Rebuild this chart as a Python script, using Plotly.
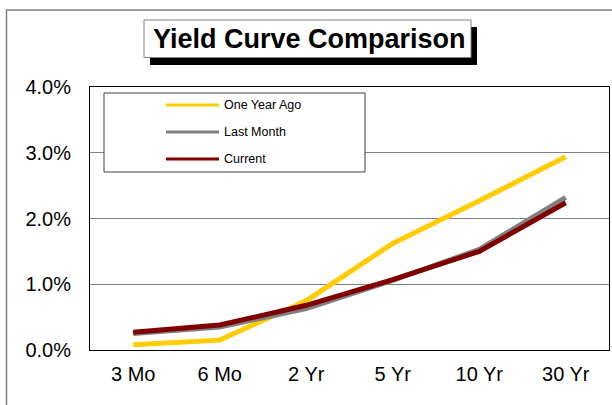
import plotly.graph_objects as go

# ---- data ----
maturities = ["3 Mo", "6 Mo", "2 Yr", "5 Yr", "10 Yr", "30 Yr"]
one_year_ago = [0.08, 0.15, 0.75, 1.62, 2.27, 2.94]
last_month = [0.25, 0.35, 0.63, 1.06, 1.53, 2.32]
current = [0.27, 0.38, 0.68, 1.07, 1.50, 2.24]
series_names = ["One Year Ago", "Last Month", "Current"]
y_ticks = [0, 1, 2, 3, 4]
y_tick_labels = ["0.0%", "1.0%", "2.0%", "3.0%", "4.0%"]

colors = ["#FFCC00", "#808080", "#800000"]
FONT = "Liberation Sans, Arial, sans-serif"

W, H = 612, 405
L, R, T, B = 90, 3, 87, 55
PW, PH = W - L - R, H - T - B


def px(x):
    return (x - L) / PW


def py(y):
    return (H - B - y) / PH


fig = go.Figure()
for name, vals, col in zip(series_names, [one_year_ago, last_month, current], colors):
    fig.add_trace(go.Scatter(x=maturities, y=vals, mode="lines", name=name,
                             line=dict(color=col, width=5), showlegend=False))

shapes = []
annotations = []

# outer chart border
shapes.append(dict(type="rect", xref="paper", yref="paper", x0=px(6.5), x1=px(620),
                   y0=py(420), y1=py(10), line=dict(color="#808080", width=1.5),
                   fillcolor="rgba(0,0,0,0)", layer="below"))

# title box with shadow
shapes.append(dict(type="rect", xref="paper", yref="paper", x0=px(150), x1=px(477),
                   y0=py(65), y1=py(27), line=dict(width=0), fillcolor="black", layer="above"))
shapes.append(dict(type="rect", xref="paper", yref="paper", x0=px(144), x1=px(471),
                   y0=py(57.5), y1=py(20), line=dict(color="#808080", width=1),
                   fillcolor="white", layer="above"))
annotations.append(dict(text="<b>Yield Curve Comparison</b>", xref="paper", yref="paper",
                        x=px(309), y=py(39), xanchor="center", yanchor="middle",
                        showarrow=False, font=dict(family=FONT, size=27, color="black")))

# custom legend box
shapes.append(dict(type="rect", xref="paper", yref="paper", x0=px(104), x1=px(365),
                   y0=py(172), y1=py(93), line=dict(color="#404040", width=1),
                   fillcolor="white", layer="above"))
legend_y = [105, 132, 159]
for name, col, ly in zip(series_names, colors, legend_y):
    shapes.append(dict(type="line", xref="paper", yref="paper", x0=px(166), x1=px(219),
                       y0=py(ly), y1=py(ly), line=dict(color=col, width=3), layer="above"))
    annotations.append(dict(text=name, xref="paper", yref="paper", x=px(222), y=py(ly),
                            xanchor="left", yanchor="middle", showarrow=False,
                            font=dict(family=FONT, size=12.5, color="black")))

fig.update_layout(
    width=W, height=H,
    margin=dict(l=L, r=R, t=T, b=B, pad=0),
    paper_bgcolor="white", plot_bgcolor="white",
    font=dict(family=FONT, color="black"),
    shapes=shapes, annotations=annotations,
    showlegend=False,
)
fig.update_xaxes(type="category", range=[-0.5, 5.5], showgrid=False,
                 showline=True, linecolor="black", linewidth=1, mirror=True,
                 ticks="", tickfont=dict(size=20, family=FONT), ticklabelstandoff=6)
fig.update_yaxes(range=[0, 4], tickvals=y_ticks, ticktext=y_tick_labels,
                 showgrid=True, gridcolor="#808080", gridwidth=1, zeroline=False,
                 showline=True, linecolor="black", linewidth=1, mirror=True,
                 ticks="", tickfont=dict(size=20, family=FONT), ticklabelstandoff=14)

fig.write_html("out.html", config={"displayModeBar": False})

# remove the default page margin so the figure sits at the window's top-left corner
with open("out.html", "r", encoding="utf-8") as f:
    html = f.read()
html = html.replace("<head>", "<head><style>html,body{margin:0;padding:0;overflow:hidden;}</style>", 1)
with open("out.html", "w", encoding="utf-8") as f:
    f.write(html)
